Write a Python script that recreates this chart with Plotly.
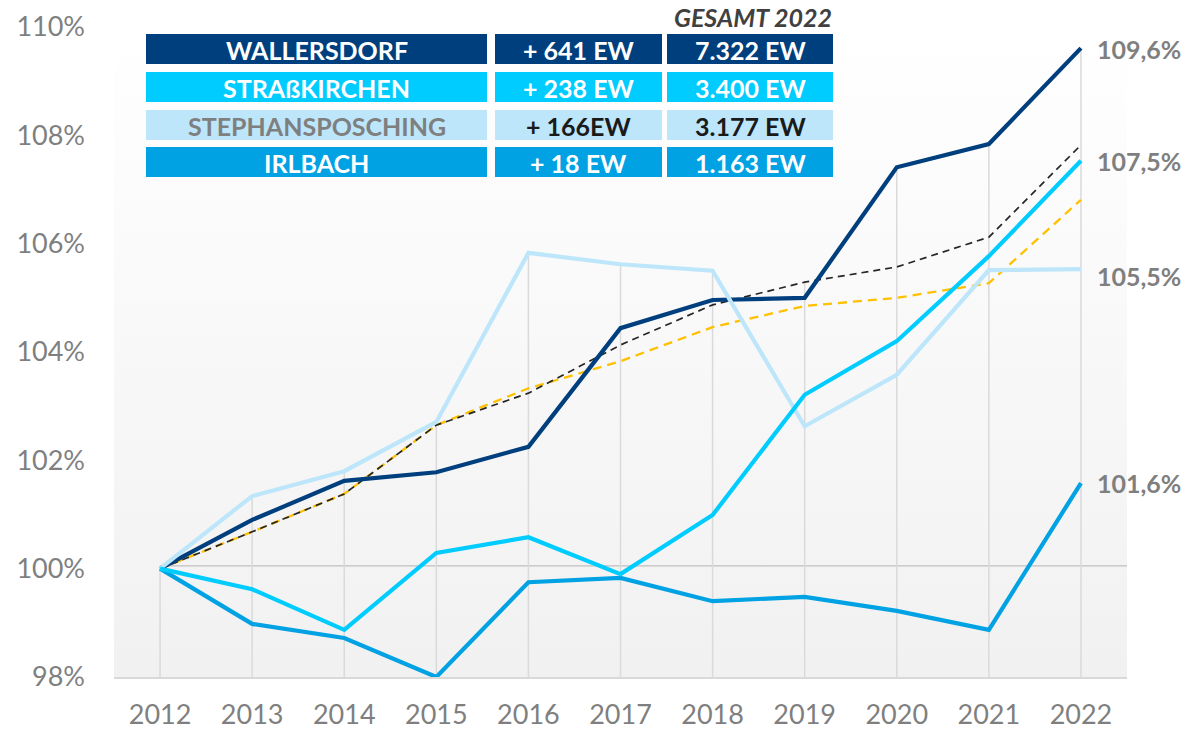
import plotly.graph_objects as go
import urllib.parse

# ---------------- data ----------------
years = ["2012", "2013", "2014", "2015", "2016", "2017", "2018", "2019", "2020", "2021", "2022"]

wallersdorf      = [100.0, 100.90, 101.62, 101.78, 102.25, 104.44, 104.96, 105.00, 107.41, 107.84, 109.61]
strasskirchen    = [100.0, 99.62, 98.87, 100.29, 100.58, 99.90, 100.99, 103.21, 104.20, 105.77, 107.53]
stephansposching = [100.0, 101.34, 101.80, 102.71, 105.83, 105.62, 105.50, 102.63, 103.58, 105.51, 105.53]
irlbach          = [100.0, 98.98, 98.72, 98.0, 99.75, 99.83, 99.40, 99.48, 99.22, 98.87, 101.58]
landkreis        = [100.0, 100.68, 101.38, 102.65, 103.24, 104.13, 104.87, 105.29, 105.57, 106.12, 107.82]
bayern           = [100.0, 100.68, 101.38, 102.65, 103.33, 103.83, 104.46, 104.85, 105.00, 105.27, 106.81]

end_labels = ["109,6%", "107,5%", "105,5%", "101,6%"]
end_label_values = [109.6, 107.53, 105.4, 101.58]

y_ticks = [98, 100, 102, 104, 106, 108, 110]
y_tick_text = ["98%", "100%", "102%", "104%", "106%", "108%", "110%"]

table_names = ["WALLERSDORF", "STRAßKIRCHEN", "STEPHANSPOSCHING", "IRLBACH"]
table_growth = ["+ 641 EW", "+ 238 EW", "+ 166EW", "+ 18 EW"]
table_total = ["7.322 EW", "3.400 EW", "3.177 EW", "1.163 EW"]
table_header = "GESAMT 2022"

# ---------------- styles ----------------
C_NAVY = "#003f7d"
C_CYAN = "#00ccff"
C_LIGHT = "#bde6fb"
C_IRL = "#00a2e3"
C_BLACK = "#262626"
C_ORANGE = "#ffc000"
C_GRAY = "#7f7f7f"
FONT = "Lato"

W, H = 1186, 732
PL, PR, PT, PB = 114, 1127, 27, 677  # plot area in pixels
ML, MT, MR, MB = PL, PT, W - PR, H - PB
PW, PH = PR - PL, PB - PT


def px(x):
    return (x - PL) / PW


def py(y):
    return (PB - y) / PH


fig = go.Figure()

# drop lines from the highest value of each year down to the axis
all_series = [wallersdorf, strasskirchen, stephansposching, irlbach, landkreis, bayern]
dx, dy = [], []
for i, yr in enumerate(years):
    top = max(s[i] for s in all_series)
    dx += [yr, yr, None]
    dy += [top, y_ticks[0], None]
fig.add_trace(go.Scatter(x=dx, y=dy, mode="lines", line=dict(color="#dadada", width=1.5),
                         hoverinfo="skip", showlegend=False))


def add_line(vals, name, color, width, dash="solid"):
    fig.add_trace(go.Scatter(x=years, y=vals, name=name, mode="lines",
                             line=dict(color=color, width=width, dash=dash),
                             cliponaxis=False, showlegend=False))


add_line(irlbach, "Irlbach", C_IRL, 4.2)
add_line(bayern, "Bayern", C_ORANGE, 2.3, "9px,6px")
add_line(landkreis, "Landkreis", C_BLACK, 1.7, "7px,5px")
add_line(wallersdorf, "Wallersdorf", C_NAVY, 4.2)
add_line(stephansposching, "Stephansposching", C_LIGHT, 4.2)
add_line(strasskirchen, "Straßkirchen", C_CYAN, 4.2)

shapes = []
# 100 % reference line
shapes.append(dict(type="line", xref="x", yref="y", x0=0, x1=10.55, y0=100.05, y1=100.05,
                   line=dict(color="#bfbfbf", width=1.2), layer="below"))

# table
row_tops = [34, 72, 110, 147]
row_h = 30
cols = [(146, 487), (495, 662), (667, 833)]
row_fill = [C_NAVY, C_CYAN, C_LIGHT, C_IRL]
name_color = ["white", "white", "#7f7f7f", "white"]
val_color = ["white", "white", "#1a1a1a", "white"]
annotations = []
for r in range(4):
    t = row_tops[r]
    texts = [table_names[r], table_growth[r], table_total[r]]
    colors = [name_color[r], val_color[r], val_color[r]]
    for c, (x0, x1) in enumerate(cols):
        shapes.append(dict(type="rect", xref="paper", yref="paper",
                           x0=px(x0), x1=px(x1), y0=py(t + row_h), y1=py(t),
                           fillcolor=row_fill[r], line=dict(width=0), layer="above"))
        annotations.append(dict(xref="paper", yref="paper", x=px((x0 + x1) / 2), y=py(t + row_h / 2 + 1),
                                text=f"<b>{texts[c]}</b>", showarrow=False,
                                font=dict(family=FONT, size=25, color=colors[c]),
                                xanchor="center", yanchor="middle"))
annotations.append(dict(xref="paper", yref="paper", x=px(834), y=py(17),
                        text=f"<b><i>{table_header}</i></b>", showarrow=False,
                        font=dict(family=FONT, size=25, color="#404040"),
                        xanchor="right", yanchor="middle"))

# end labels
for lab, v in zip(end_labels, end_label_values):
    annotations.append(dict(xref="x", yref="y", x=10, y=v, text=f"<b>{lab}</b>",
                            showarrow=False, xanchor="left", yanchor="middle", xshift=14,
                            font=dict(family=FONT, size=25, color=C_GRAY)))

# gradient background for plot area
svg = ("<svg xmlns='http://www.w3.org/2000/svg' width='100' height='100' preserveAspectRatio='none'>"
       "<defs><linearGradient id='g' x1='0' y1='0' x2='0' y2='1'>"
       "<stop offset='0' stop-color='#ffffff'/><stop offset='1' stop-color='#f1f1f1'/>"
       "</linearGradient></defs><rect width='100' height='100' fill='url(#g)'/></svg>")
img_src = "data:image/svg+xml;charset=utf-8," + urllib.parse.quote(svg)

fig.update_layout(
    width=W, height=H,
    margin=dict(l=ML, r=MR, t=MT, b=MB, autoexpand=False),
    paper_bgcolor="white", plot_bgcolor="rgba(0,0,0,0)",
    shapes=shapes, annotations=annotations,
    images=[dict(source=img_src, xref="paper", yref="paper", x=0, y=1, sizex=1, sizey=1,
                 sizing="stretch", xanchor="left", yanchor="top", layer="below")],
    xaxis=dict(type="category", range=[-0.5, 10.5], showgrid=False, zeroline=False,
               showline=True, linecolor="#d9d9d9", linewidth=1.5, ticks="", automargin=False,
               tickfont=dict(family=FONT, size=27, color=C_GRAY), ticklabelstandoff=13),
    yaxis=dict(range=[98, 110], tickvals=y_ticks, ticktext=y_tick_text, showgrid=False,
               zeroline=False, showline=False, ticks="", automargin=False,
               tickfont=dict(family=FONT, size=27, color=C_GRAY), ticklabelstandoff=28),
    hovermode=False,
)

fig.write_html("out.html", config={"displayModeBar": False},
               post_script="document.body.style.margin='0';document.body.style.overflow='hidden';")
